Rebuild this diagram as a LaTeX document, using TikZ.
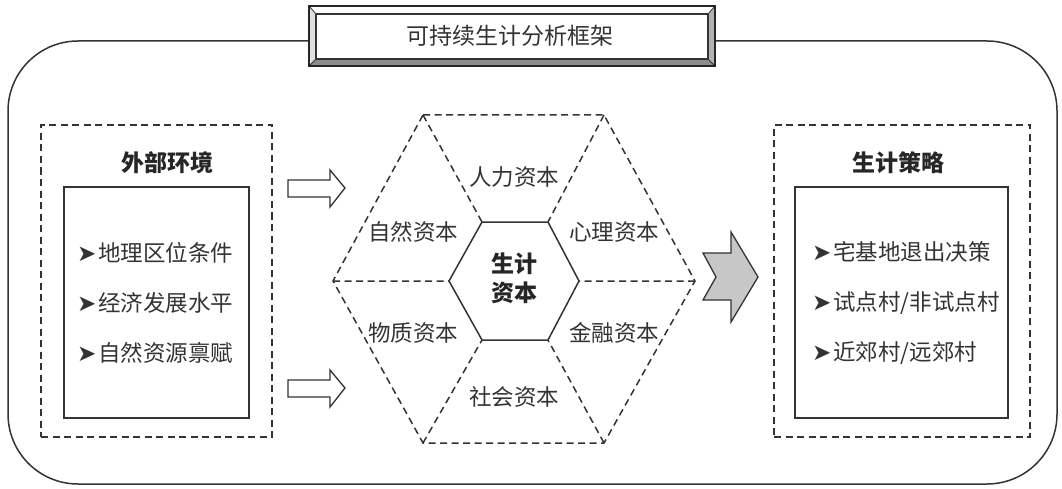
\documentclass[tikz,border=0pt]{standalone}
\usepackage{fontspec}
\setmainfont{Noto Sans CJK SC}
\newfontfamily\dejavu{DejaVu Sans}
\newcommand{\bul}{{\dejavu\fontsize{23}{23}\selectfont ➤}\hspace{2pt}}
\begin{document}
\begin{tikzpicture}[x=1pt,y=-1pt,
  ln/.style={draw=black!80, line width=1.5pt},
  dsh/.style={draw=black!80, line width=1.5pt, dash pattern=on 7pt off 4.5pt},
  txt/.style={text=black!80, font=\fontsize{22.5}{26}\selectfont, inner sep=0pt},
  ttl/.style={text=black!85, font=\fontsize{23}{29}\selectfont\bfseries, inner sep=0pt, align=center},
  item/.style={txt, anchor=west},
  hollow/.style={draw=black!80, line width=1.3pt, fill=white},
  grayarr/.style={draw=black!80, line width=1.3pt, fill=black!22}]
\useasboundingbox (0,0) rectangle (1062,489);
% outer frame
\draw[ln, rounded corners=70pt] (8,41) rectangle (1057,484);
% title frame
\fill[black!12] (309,6) rectangle (715,66);
\fill[white] (309,6) -- (715,6) -- (708,14) -- (316,14) -- cycle;
\fill[black!45] (309,66) -- (316,59) -- (708,59) -- (715,66) -- cycle;
\fill[black!30] (715,6) -- (708,14) -- (708,59) -- (715,66) -- cycle;
\draw[black!80, line width=0.8pt] (309,6) -- (316,14) (715,6) -- (708,14) (309,66) -- (316,59) (715,66) -- (708,59);
\draw[black!85, line width=1.3pt] (309,6) rectangle (715,66);
\node[ln, fill=white, line width=1.1pt, minimum width=392pt, minimum height=45pt, inner sep=0pt] (titlebox) at (512,36.5) {};
\node[txt, font=\fontsize{23}{26}\selectfont] (title) at (510,36) {可持续生计分析框架};
% left box
\node[dsh, minimum width=231pt, minimum height=312pt, inner sep=0pt] (envout) at (156.5,281) {};
\node[ttl] (envtitle) at (167,163) {外部环境};
\node[ln, minimum width=185pt, minimum height=231pt, inner sep=0pt] (envin) at (156.5,302.5) {};
\node[item] (e1) at (77,253) {\bul 地理区位条件};
\node[item] (e2) at (77,303) {\bul 经济发展水平};
\node[item] (e3) at (77,353) {\bul 自然资源禀赋};
% right box
\node[dsh, minimum width=256pt, minimum height=312pt, inner sep=0pt] (strout) at (902,281) {};
\node[ttl] (strtitle) at (898,163) {生计策略};
\node[ln, minimum width=213pt, minimum height=231pt, inner sep=0pt] (strin) at (901.5,302.5) {};
\node[item] (s1) at (812,252) {\bul 宅基地退出决策};
\node[item] (s2) at (812,303) {\bul 试点村/非试点村};
\node[item] (s3) at (812,353) {\bul 近郊村/远郊村};
% hollow arrows
\draw[hollow] (288,180) -- (330,180) -- (330,170) -- (345,188) -- (330,207) -- (330,197) -- (288,197) -- cycle;
\draw[hollow] (288,380) -- (330,380) -- (330,370) -- (345,388) -- (330,407) -- (330,397) -- (288,397) -- cycle;
% gray arrow
\draw[grayarr, line join=miter] (703,253) -- (731,253) -- (731,232) -- (758,277) -- (731,322) -- (731,300) -- (703,300) -- (716,277) -- cycle;
% hexagons
\coordinate (o1) at (423,115); \coordinate (o2) at (604,115); \coordinate (o3) at (695,281);
\coordinate (o4) at (604,443); \coordinate (o5) at (423,443); \coordinate (o6) at (333,281);
\coordinate (i1) at (482,222); \coordinate (i2) at (548,222); \coordinate (i3) at (579,281);
\coordinate (i4) at (548,340); \coordinate (i5) at (482,340); \coordinate (i6) at (449,281);
\draw[dsh] (o1) -- (o2) -- (o3) -- (o4) -- (o5) -- (o6) -- cycle;
\draw[dsh] (o1) -- (i1) (o2) -- (i2) (o3) -- (i3) (o4) -- (i4) (o5) -- (i5) (o6) -- (i6);
\draw[ln, fill=white] (i1) -- (i2) -- (i3) -- (i4) -- (i5) -- (i6) -- cycle;
\node[ttl] (core) at (514,278) {生计\\资本};
\node[txt] (h1) at (514,177) {人力资本};
\node[txt] (h2) at (413,232) {自然资本};
\node[txt] (h3) at (614,232) {心理资本};
\node[txt] (h4) at (413,333) {物质资本};
\node[txt] (h5) at (614,333) {金融资本};
\node[txt] (h6) at (514,397) {社会资本};
\end{tikzpicture}
\end{document}
